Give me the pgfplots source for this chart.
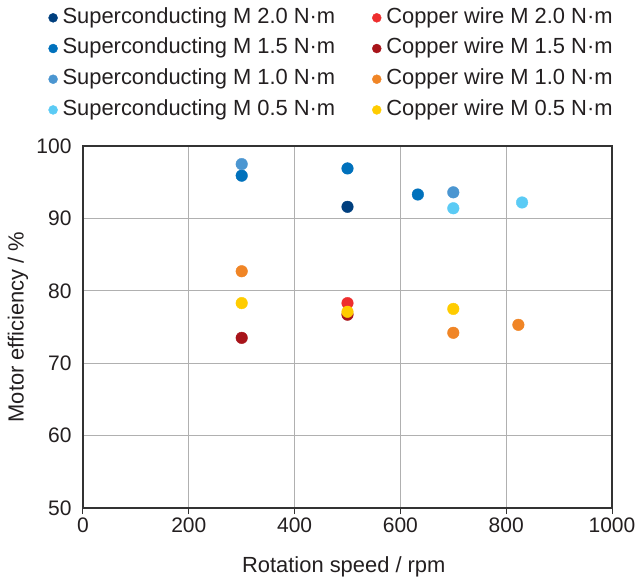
\documentclass[border=0pt]{standalone}
\usepackage{fontspec}
\setmainfont{Liberation Sans}
\usepackage{pgfplots}
\pgfplotsset{compat=1.18}
\definecolor{scA}{HTML}{003F7E}
\definecolor{scB}{HTML}{0071BC}
\definecolor{scC}{HTML}{4B96D1}
\definecolor{scD}{HTML}{5BCBF5}
\definecolor{cuA}{HTML}{EE2E2E}
\definecolor{cuB}{HTML}{A8141A}
\definecolor{cuC}{HTML}{F08526}
\definecolor{cuD}{HTML}{FFCC00}
\definecolor{textc}{HTML}{231F20}
\definecolor{axisc}{HTML}{333333}
\definecolor{gridc}{HTML}{B0B0B0}
\newcommand{\cf}{\fontsize{21bp}{25bp}\selectfont}
\newcommand{\lf}{\fontsize{21.9bp}{26bp}\selectfont}
\begin{document}
\begin{tikzpicture}
\begin{axis}[
  scale only axis, width=529bp, height=362bp,
  xmin=0, xmax=1000, ymin=50, ymax=100,
  xtick={0,200,...,1000}, ytick={50,60,...,100},
  grid=major,
  major grid style={line width=0.9bp, color=gridc},
  axis line style={line width=1.3bp, color=axisc},
  tick align=outside, major tick length=6bp,
  xtick pos=bottom, ytick pos=left,
  xtick style={line width=1bp, color=axisc},
  ytick style={draw=none},
  tick label style={font=\cf, color=textc},
  yticklabel style={xshift=-2bp},
  /pgf/number format/assume math mode=true,
  /pgf/number format/1000 sep={},
  xlabel={Rotation speed / rpm},
  ylabel={Motor efficiency / \%},
  label style={font=\lf, color=textc},
  xlabel style={at={(axis description cs:0.493,-0.163)}, anchor=center},
  ylabel style={at={(axis description cs:-0.123,0.5)}, anchor=center},
  legend columns=2,
  legend cell align=left,
  legend style={draw=none, fill=none, inner sep=0pt, outer sep=0pt,
    at={(-0.065,1.381)}, anchor=north west, font=\lf, text=textc,
    nodes={inner xsep=5bp, inner ysep=0bp, text height=15bp, text depth=4.5bp},
    row sep=11.2bp,
    /tikz/every even column/.append style={column sep=32bp}},
  legend image code/.code={\draw[#1, mark size=4.5bp] plot coordinates {(4.5bp,0bp)};},
]
\addplot[only marks, mark=*, color=scA, mark size=5.8bp] coordinates {(500,91.6)};
\addlegendentry{Superconducting M 2.0 N·m}
\addplot[only marks, mark=*, color=cuA, mark size=5.8bp] coordinates {(500,78.3)};
\addlegendentry{Copper wire M 2.0 N·m}
\addplot[only marks, mark=*, color=scB, mark size=5.8bp] coordinates {(300,95.9) (500,96.9) (633,93.3)};
\addlegendentry{Superconducting M 1.5 N·m}
\addplot[only marks, mark=*, color=cuB, mark size=5.8bp] coordinates {(300,73.5) (500,76.7)};
\addlegendentry{Copper wire M 1.5 N·m}
\addplot[only marks, mark=*, color=scC, mark size=5.8bp] coordinates {(300,97.5) (700,93.6)};
\addlegendentry{Superconducting M 1.0 N·m}
\addplot[only marks, mark=*, color=cuC, mark size=5.8bp] coordinates {(300,82.7) (700,74.2) (823,75.3)};
\addlegendentry{Copper wire M 1.0 N·m}
\addplot[only marks, mark=*, color=scD, mark size=5.8bp] coordinates {(700,91.4) (830,92.2)};
\addlegendentry{Superconducting M 0.5 N·m}
\addplot[only marks, mark=*, color=cuD, mark size=5.8bp] coordinates {(300,78.3) (500,77.1) (700,77.5)};
\addlegendentry{Copper wire M 0.5 N·m}
\end{axis}
\pgfresetboundingbox
\path (current axis.south west) ++(-83bp,-74bp) rectangle ++(638bp,582bp);
\end{tikzpicture}
\end{document}
